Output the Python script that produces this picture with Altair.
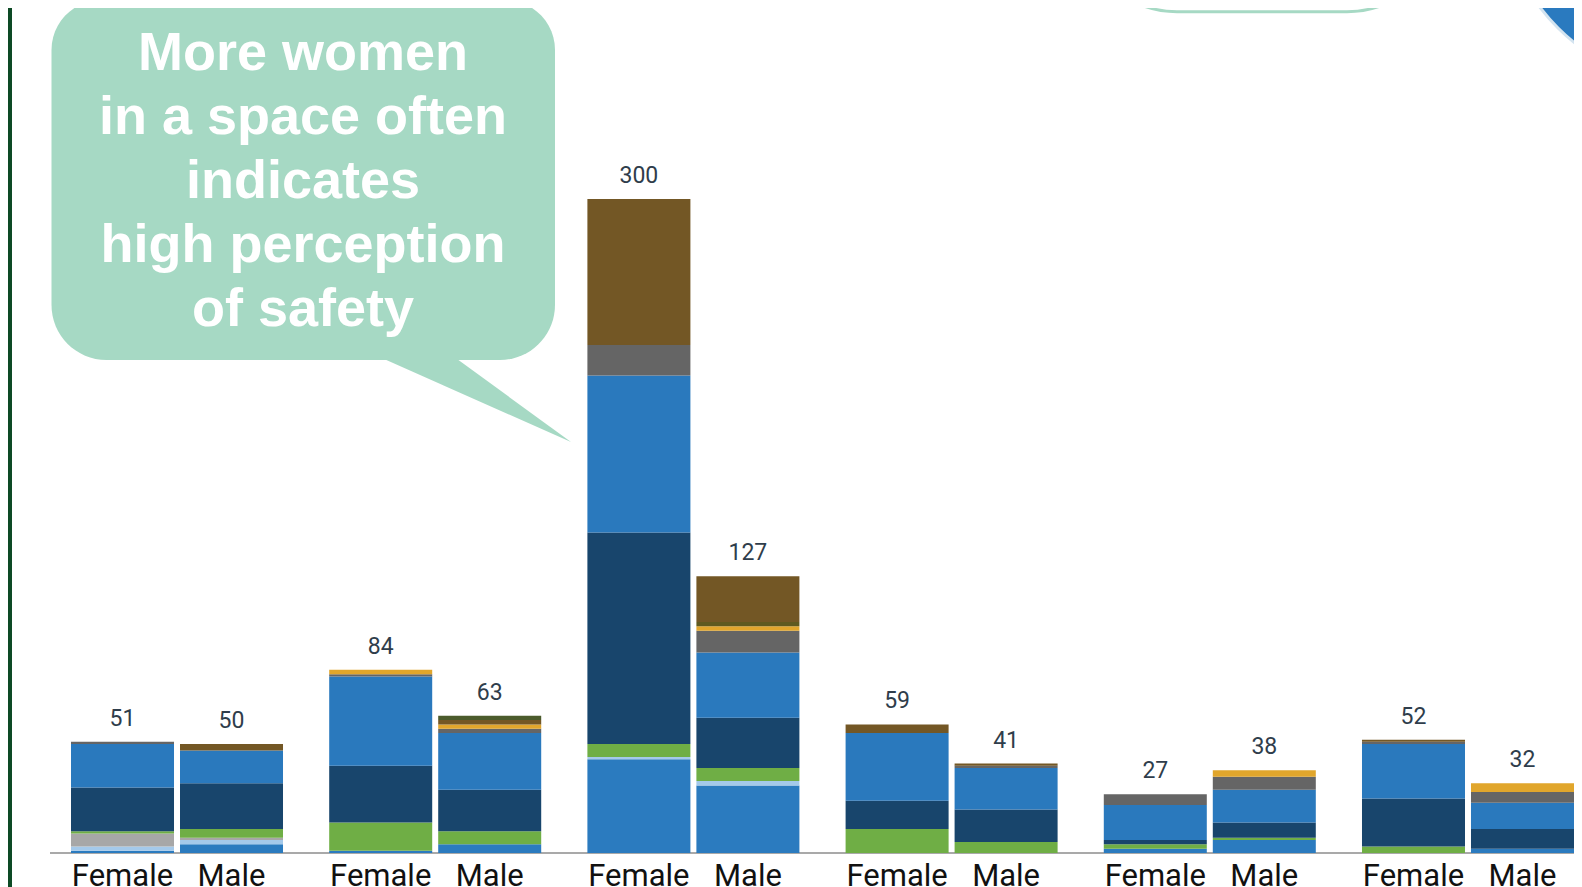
import altair as alt
import pandas as pd

# ---------------- data ----------------
groups = ["Space 1", "Space 2", "Space 3", "Space 4", "Space 5", "Space 6"]
genders = ["Female", "Male"]

segments = ["Segment 1", "Segment 2", "Segment 3", "Segment 4", "Segment 5", "Segment 6",
            "Segment 7", "Segment 8", "Segment 9", "Segment 10", "Segment 11"]
seg_colors = ["#2b7bbf", "#a4c9ea", "#a7a7a7", "#6fae45", "#18456c", "#2a79bd",
              "#656565", "#e1a62c", "#5f5a20", "#735725", "#4b5b2c"]

# values per bar, order: S1 F, S1 M, S2 F, S2 M, ... S6 F, S6 M  (bottom -> top stacking)
seg1 = [1, 4, 1, 4, 43, 31, 0, 0, 2, 6, 0, 2]
seg2 = [2, 2, 0, 0, 1, 2, 0, 0, 0, 0, 0, 0]
seg3 = [6, 1, 0, 0, 0, 0, 0, 0, 0, 0, 0, 0]
seg4 = [1, 4, 13, 6, 6, 6, 11, 5, 2, 1, 3, 0]
seg5 = [20, 21, 26, 19, 97, 23, 13, 15, 2, 7, 22, 9]
seg6 = [20, 15, 41, 26, 72, 30, 31, 19, 16, 15, 25, 12]
seg7 = [1, 0, 1, 2, 14, 10, 0, 1, 5, 6, 1, 5]
seg8 = [0, 0, 2, 2, 0, 2, 0, 0, 0, 3, 0, 4]
seg9 = [0, 0, 0, 0, 0, 2, 0, 0, 0, 0, 0, 0]
seg10 = [0, 3, 0, 2, 67, 21, 4, 1, 0, 0, 1, 0]
seg11 = [0, 0, 0, 2, 0, 0, 0, 0, 0, 0, 0, 0]
seg_values = [seg1, seg2, seg3, seg4, seg5, seg6, seg7, seg8, seg9, seg10, seg11]

bubble_lines = ["More women", "in a space often", "indicates", "high perception", "of safety"]

# ---------------- tables ----------------
bar_group = [g for g in groups for _ in genders]
bar_gender = genders * len(groups)

rows = []
for i, (seg, vals) in enumerate(zip(segments, seg_values)):
    for g, s, v in zip(bar_group, bar_gender, vals):
        if v > 0:
            rows.append({"group": g, "gender": s, "segment": seg, "order": i, "value": v})
df = pd.DataFrame(rows)
totals = df.groupby(["group", "gender"], as_index=False)["value"].sum().rename(columns={"value": "total"})
labels_df = pd.DataFrame({"group": bar_group, "gender": bar_gender})
one = pd.DataFrame({"k": [0]})
bubble_df = pd.DataFrame({"line": bubble_lines, "idx": list(range(len(bubble_lines)))})

label_font = "Roboto, sans-serif"
mint = "#a6d9c4"
W = 1566
H = 845

x_enc = alt.X("group:N", sort=groups, axis=None,
              scale=alt.Scale(domain=groups, paddingInner=0.1789, paddingOuter=0.122, align=1))
xo_enc = alt.XOffset("gender:N", sort=genders,
                     scale=alt.Scale(domain=genders, paddingInner=0.055, paddingOuter=0))

# ---------------- decorations ----------------
stripe = alt.Chart(one).mark_rect(color="#0d4a25").encode(
    x=alt.value(0), x2=alt.value(4), y=alt.value(0), y2=alt.value(879))

bubble = alt.Chart(one).mark_rect(
    color=mint, cornerRadiusTopLeft=50, cornerRadiusTopRight=50,
    cornerRadiusBottomLeft=55, cornerRadiusBottomRight=55).encode(
    x=alt.value(43.5), x2=alt.value(547), y=alt.value(-8), y2=alt.value(352))

tail = alt.Chart(one).mark_point(
    shape="M-1,-0.46 L-0.219,-0.46 L1,0.427 Z", filled=True, color=mint, opacity=1,
    size=192 * 192).encode(x=alt.value(467), y=alt.value(393))

outline = alt.Chart(one).mark_rect(
    fill="white", stroke=mint, strokeWidth=3, cornerRadius=100).encode(
    x=alt.value(1069), x2=alt.value(1439), y=alt.value(-308), y2=alt.value(3.7))

circle = alt.Chart(one).mark_point(
    shape="circle", filled=True, color="#2a7abf", stroke="#d4e4f0", strokeWidth=3,
    opacity=1, size=396 * 396).encode(x=alt.value(1690), y=alt.value(-120))

baseline = alt.Chart(one).mark_rule(color="#555555", strokeWidth=1.2).encode(
    y=alt.value(H), x=alt.value(42), x2=alt.value(W))

# ---------------- bars & labels ----------------
bars = alt.Chart(df).mark_bar().encode(
    x=x_enc, xOffset=xo_enc,
    y=alt.Y("value:Q", stack="zero", axis=None,
            scale=alt.Scale(domain=[0, 387.6], nice=False)),
    color=alt.Color("segment:N", scale=alt.Scale(domain=segments, range=seg_colors), legend=None),
    order=alt.Order("order:Q", sort="ascending"),
)

total_text = alt.Chart(totals).mark_text(
    dy=-23, baseline="middle", align="center", font=label_font, fontSize=23, color="#2f3d4b").encode(
    x=x_enc, xOffset=xo_enc, y=alt.Y("total:Q"), text=alt.Text("total:Q"))

gender_text = alt.Chart(labels_df).mark_text(
    baseline="alphabetic", align="center", font=label_font, fontSize=31, color="#111111").encode(
    x=x_enc, xOffset=xo_enc, y=alt.value(878), text=alt.Text("gender:N"))

bubble_text = alt.Chart(bubble_df).transform_calculate(
    ypos="61.7 + 64.1 * datum.idx").mark_text(
    align="center", baseline="alphabetic", fontSize=54, fontWeight="bold",
    font="Liberation Sans, Arial, sans-serif", color="white").encode(
    x=alt.value(295),
    y=alt.Y("ypos:Q", scale=None),
    text=alt.Text("line:N"))

chart = alt.layer(
    stripe, bubble, tail, outline, circle, baseline, bars, total_text, gender_text, bubble_text
).properties(
    width=W, height=H,
    padding={"left": 0, "top": 0, "right": 0, "bottom": 34},
    autosize=alt.AutoSizeParams(type="none"),
    background="white",
).configure_view(stroke=None)

chart.save("out.html", embed_options={"renderer": "svg", "actions": False})
